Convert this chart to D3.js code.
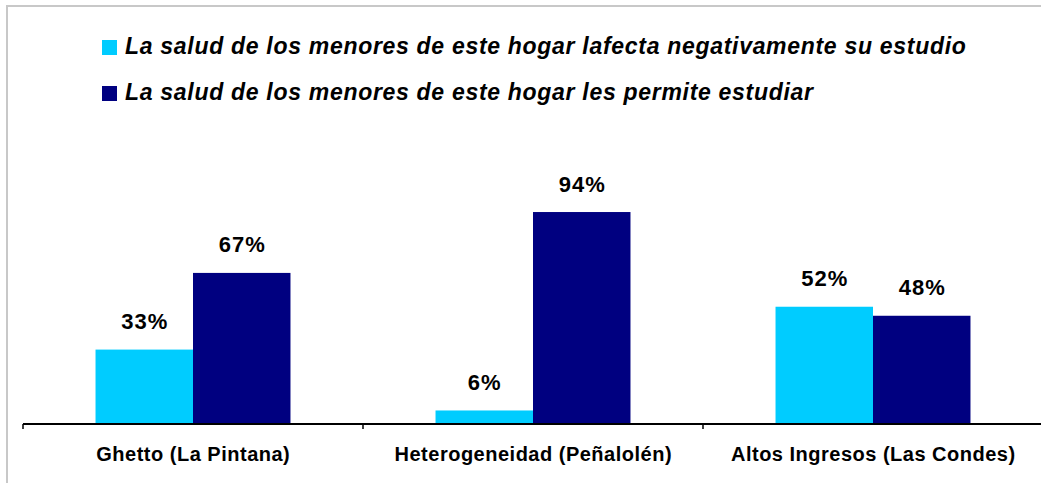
<!DOCTYPE html>
<html>
<head>
<meta charset="utf-8">
<script src="https://d3js.org/d3.v7.min.js"></script>
<style>
  body { margin: 0; background: #fff; }
  svg { display: block; font-family: Arial, "Liberation Sans", sans-serif; }
</style>
</head>
<body>
<div id="chart"></div>
<script>
// Data ----------------------------------------------------------------------->
const categories = [
  'Ghetto (La Pintana)',
  'Heterogeneidad (Peñalolén)',
  'Altos Ingresos (Las Condes)'
];
const series_names = [
  'La salud de los menores de este hogar lafecta negativamente su estudio',
  'La salud de los menores de este hogar les permite estudiar'
];
const afecta_values = [33, 6, 52];
const permite_values = [67, 94, 48];
const series_colors = ['#00ccff', '#000080'];

// Setup ---------------------------------------------------------------------->
const width = 1041, height = 483;
const svg = d3.select('#chart')
  .append('svg')
    .attr('width', width)
    .attr('height', height);

// outer frame (right and bottom edges fall outside the picture)
svg.append('rect')
  .attr('x', 7).attr('y', 6)
  .attr('width', width + 20).attr('height', height + 20)
  .attr('fill', 'none')
  .attr('stroke', '#c8c8c8')
  .attr('stroke-width', 2);

const x0 = d3.scaleBand()
  .domain(categories)
  .range([23, 1043])
  .paddingInner(0)
  .paddingOuter(0);

const x1 = d3.scaleBand()
  .domain([0, 1])
  .range([0, x0.bandwidth()])
  .paddingInner(0)
  .paddingOuter(0.744);

const y = d3.scaleLinear()
  .domain([0, 100])
  .range([424, 198.5]);

const rows = categories.map((c, i) => ({
  cat: c,
  vals: [afecta_values[i], permite_values[i]]
}));

// Bars ----------------------------------------------------------------------->
const groups = svg.append('g')
  .selectAll('g')
  .data(rows)
  .join('g')
    .attr('transform', d => `translate(${x0(d.cat)},0)`);

groups.selectAll('rect')
  .data(d => d.vals.map((v, j) => ({ v, j })))
  .join('rect')
    .attr('x', d => x1(d.j))
    .attr('y', d => y(d.v))
    .attr('width', x1.bandwidth())
    .attr('height', d => y(0) - y(d.v))
    .attr('fill', d => series_colors[d.j]);

groups.selectAll('text.val')
  .data(d => d.vals.map((v, j) => ({ v, j })))
  .join('text')
    .attr('class', 'val')
    .attr('x', d => x1(d.j) + x1.bandwidth() / 2 + 0.5)
    .attr('y', d => y(d.v) - 20.5)
    .attr('text-anchor', 'middle')
    .style('font-size', '22px')
    .style('font-weight', 'bold')
    .style('letter-spacing', '1px')
    .attr('fill', '#000')
    .text(d => d.v + '%');

// Axis ----------------------------------------------------------------------->
const axis = svg.append('g')
  .attr('transform', `translate(0,${y(0)})`)
  .call(d3.axisBottom(x0).tickSize(0).tickPadding(0).tickFormat(''));
axis.select('.domain')
  .attr('stroke', '#000')
  .attr('stroke-width', 2)
  .attr('d', `M${x0.range()[0]},0H${x0.range()[1]}`);

// tick marks at category boundaries
axis.selectAll('line.bound')
  .data(categories)
  .join('line')
    .attr('class', 'bound')
    .attr('x1', d => x0(d)).attr('x2', d => x0(d))
    .attr('y1', 0).attr('y2', 5)
    .attr('stroke', '#000')
    .attr('stroke-width', 1.5);

axis.selectAll('text.cat')
  .data(categories)
  .join('text')
    .attr('class', 'cat')
    .attr('x', d => x0(d) + x0.bandwidth() / 2 + 0.3)
    .attr('y', 37)
    .attr('text-anchor', 'middle')
    .attr('fill', '#000')
    .style('font-size', '20px')
    .style('font-weight', 'bold')
    .style('letter-spacing', '0.5px')
    .text(d => d);

// Legend --------------------------------------------------------------------->
const legend = svg.append('g')
  .selectAll('g')
  .data(series_names)
  .join('g')
    .attr('transform', (d, i) => `translate(102,${40 + i * 46})`);

legend.append('rect')
  .attr('width', 15).attr('height', 15)
  .attr('fill', (d, i) => series_colors[i]);

legend.append('text')
  .attr('x', 23)
  .attr('y', 14)
  .style('font-size', '23px')
  .style('font-weight', 'bold')
  .style('font-style', 'italic')
  .style('letter-spacing', '0.7px')
  .attr('fill', '#000')
  .text(d => d);
</script>
</body>
</html>
